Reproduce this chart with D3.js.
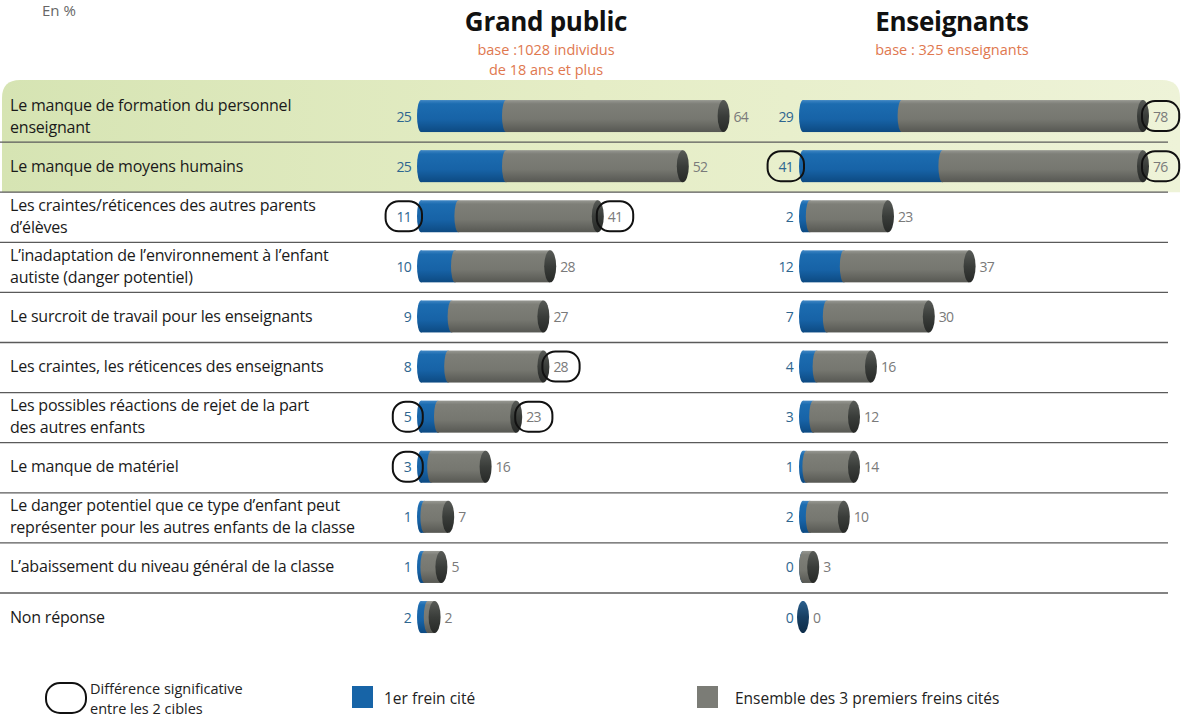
<!DOCTYPE html>
<html lang="fr">
<head>
<meta charset="utf-8">
<script src="https://cdn.jsdelivr.net/npm/d3@7"></script>
<style>
  body { margin: 0; background: #fff; }
  svg text { font-family: "Open Sans", "Noto Sans", sans-serif; }
</style>
</head>
<body>
<div id="chart"></div>
<script>
// data
const categories = [
    "Le manque de formation du personnel\nenseignant",
    "Le manque de moyens humains",
    "Les craintes/réticences des autres parents\nd’élèves",
    "L’inadaptation de l’environnement à l’enfant\nautiste (danger potentiel)",
    "Le surcroit de travail pour les enseignants",
    "Les craintes, les réticences des enseignants",
    "Les possibles réactions de rejet de la part\ndes autres enfants",
    "Le manque de matériel",
    "Le danger potentiel que ce type d’enfant peut\nreprésenter pour les autres enfants de la classe",
    "L’abaissement du niveau général de la classe",
    "Non réponse"
];

const gpFirst = [25, 25, 11, 10, 9, 8, 5, 3, 1, 1, 2];
const gpTotal = [64, 52, 41, 28, 27, 28, 23, 16, 7, 5, 2];
const ensFirst = [29, 41, 2, 12, 7, 4, 3, 1, 2, 0, 0];
const ensTotal = [78, 76, 23, 37, 30, 16, 12, 14, 10, 3, 0];

// significant difference between the 2 targets (circled values)
const gpSigFirst = [0, 0, 1, 0, 0, 0, 1, 1, 0, 0, 0];
const gpSigTotal = [0, 0, 1, 0, 0, 1, 1, 0, 0, 0, 0];
const ensSigFirst = [0, 1, 0, 0, 0, 0, 0, 0, 0, 0, 0];
const ensSigTotal = [1, 1, 0, 0, 0, 0, 0, 0, 0, 0, 0];

const panelTitles = ["Grand public", "Enseignants"];
const panelBases = [["base :1028 individus", "de 18 ans et plus"], ["base : 325 enseignants"]];
const legendLabels = [["Différence significative", "entre les 2 cibles"], ["1er frein cité"], ["Ensemble des 3 premiers freins cités"]];

// layout
const WIDTH = 1187, HEIGHT = 722;
const ROW_TOP = 92, ROW_STEP = 50.1;
const BAR_H = 32;
const PANEL_X0 = [421, 803];
const PANEL_CX = [546, 952];
const HIGHLIGHT_ROWS = 2;

const BLUE = "#1764a7", GREY = "#7b7c76";

const panels = [
    { title: panelTitles[0], base: panelBases[0], first: gpFirst, total: gpTotal, sigFirst: gpSigFirst, sigTotal: gpSigTotal, x0: PANEL_X0[0], cx: PANEL_CX[0] },
    { title: panelTitles[1], base: panelBases[1], first: ensFirst, total: ensTotal, sigFirst: ensSigFirst, sigTotal: ensSigTotal, x0: PANEL_X0[1], cx: PANEL_CX[1] }
];

const svg = d3.select("#chart")
    .append("svg")
    .attr("width", WIDTH)
    .attr("height", HEIGHT);

// gradients for the cylinders
const defs = svg.append("defs");
function vGrad(id, stops) {
    const g = defs.append("linearGradient").attr("id", id)
        .attr("x1", 0).attr("y1", 0).attr("x2", 0).attr("y2", 1);
    stops.forEach(([o, c]) => g.append("stop").attr("offset", o).attr("stop-color", c));
}
vGrad("gBlue", [[0, "#3f86c4"], [0.12, "#1c6cb0"], [0.6, "#1763a7"], [1, "#0d4a82"]]);
vGrad("gGrey", [[0, "#979892"], [0.12, "#7e7f78"], [0.6, "#767770"], [1, "#575853"]]);
vGrad("gCap", [[0, "#585b57"], [0.5, "#3a3d3a"], [1, "#272927"]]);
vGrad("gCapBlue", [[0, "#2b5f8c"], [0.5, "#173f63"], [1, "#0e2c48"]]);

const hg = defs.append("linearGradient").attr("id", "gHighlight")
    .attr("x1", 0).attr("y1", 0).attr("x2", 1).attr("y2", 0);
hg.append("stop").attr("offset", 0).attr("stop-color", "#d6e4b3");
hg.append("stop").attr("offset", 0.5).attr("stop-color", "#e5edc6");
hg.append("stop").attr("offset", 1).attr("stop-color", "#eef3d8");

// scales
const yScale = d3.scaleBand()
    .domain(categories)
    .range([ROW_TOP, ROW_TOP + ROW_STEP * categories.length]);

const xScale = d3.scaleLinear()
    .domain([0, 100])
    .range([0, 340])
    .clamp(true);

// green band behind the first rows
const hlTop = 80, hlBottom = yScale(categories[HIGHLIGHT_ROWS - 1]) + yScale.bandwidth();
const hlL = 2, hlR = 1180, r = 18;
svg.append("path")
    .attr("d", `M${hlL},${hlBottom} L${hlL},${hlTop + r} Q${hlL},${hlTop} ${hlL + r},${hlTop} L${hlR - r},${hlTop} Q${hlR},${hlTop} ${hlR},${hlTop + r} L${hlR},${hlBottom} Z`)
    .attr("fill", "url(#gHighlight)");

// "En %"
svg.append("text")
    .attr("x", 42).attr("y", 16)
    .attr("font-size", 15)
    .attr("fill", "#666")
    .text("En %");

// panel headers
panels.forEach(p => {
    svg.append("text")
        .attr("x", p.cx).attr("y", 31)
        .attr("text-anchor", "middle")
        .attr("font-size", 26)
        .attr("font-weight", 700)
        .attr("letter-spacing", -0.3)
        .attr("fill", "#111")
        .text(p.title);
    p.base.forEach((line, i) => {
        svg.append("text")
            .attr("x", p.cx).attr("y", 55 + i * 20)
            .attr("text-anchor", "middle")
            .attr("font-size", 14.5)
            .attr("fill", "#e0784f")
            .text(line);
    });
});

// separators between rows
svg.selectAll(".sep")
    .data(categories.slice(0, -1))
    .enter()
    .append("line")
    .attr("class", "sep")
    .attr("x1", 0).attr("x2", 1168)
    .attr("y1", d => yScale(d) + yScale.bandwidth())
    .attr("y2", d => yScale(d) + yScale.bandwidth())
    .attr("stroke", "#5a5a5a")
    .attr("stroke-width", 1.3);

// row labels
const labels = svg.selectAll(".row-label")
    .data(categories)
    .enter()
    .append("text")
    .attr("class", "row-label")
    .attr("font-size", 16)
    .attr("letter-spacing", -0.2)
    .attr("fill", "#1a1a1a");

labels.each(function(d) {
    const lines = d.split("\n");
    const cy = yScale(d) + yScale.bandwidth() / 2 - 1.5;
    d3.select(this).selectAll("tspan")
        .data(lines)
        .enter()
        .append("tspan")
        .attr("x", 10)
        .attr("y", (l, i) => cy + (i - (lines.length - 1) / 2) * 22)
        .attr("dominant-baseline", "central")
        .text(l => l);
});

// circle around a value
function circleAround(node, cy) {
    const bb = node.getBBox();
    svg.append("rect")
        .attr("x", bb.x - 11)
        .attr("y", cy - 15)
        .attr("width", bb.width + 22)
        .attr("height", 30)
        .attr("rx", 13)
        .attr("fill", "none")
        .attr("stroke", "#111")
        .attr("stroke-width", 2);
}

// cylinders
panels.forEach(p => {
    const g = svg.append("g");
    categories.forEach((cat, i) => {
        const first = p.first[i], total = p.total[i];
        const cy = yScale(cat) + yScale.bandwidth() / 2 - 1;
        const xb = p.x0 + xScale(first);
        const xe = p.x0 + xScale(first + total);
        const top = cy - BAR_H / 2;

        g.append("ellipse")
            .attr("cx", p.x0).attr("cy", cy)
            .attr("rx", 4).attr("ry", BAR_H / 2)
            .attr("fill", "url(#gBlue)");
        g.append("rect")
            .attr("x", p.x0).attr("y", top)
            .attr("width", xb - p.x0).attr("height", BAR_H)
            .attr("fill", "url(#gBlue)");
        g.append("ellipse")
            .attr("cx", xb).attr("cy", cy)
            .attr("rx", 4).attr("ry", BAR_H / 2)
            .attr("fill", total > 0 ? "url(#gGrey)" : "url(#gBlue)");
        g.append("rect")
            .attr("x", xb).attr("y", top)
            .attr("width", xe - xb).attr("height", BAR_H)
            .attr("fill", "url(#gGrey)");
        g.append("ellipse")
            .attr("cx", xe).attr("cy", cy)
            .attr("rx", 6).attr("ry", BAR_H / 2)
            .attr("fill", total > 0 ? "url(#gCap)" : "url(#gCapBlue)");

        const tFirst = g.append("text")
            .attr("x", p.x0 - 10).attr("y", cy)
            .attr("text-anchor", "end")
            .attr("dominant-baseline", "central")
            .attr("font-size", 14)
            .attr("letter-spacing", -0.8)
            .attr("fill", "#2e6690")
            .text(first);
        const tTotal = g.append("text")
            .attr("x", xe + 10).attr("y", cy)
            .attr("dominant-baseline", "central")
            .attr("font-size", 14)
            .attr("letter-spacing", -0.8)
            .attr("fill", "#7a7a7a")
            .text(total);

        if (p.sigFirst[i]) circleAround(tFirst.node(), cy);
        if (p.sigTotal[i]) circleAround(tTotal.node(), cy);
    });
});

// legend
const legY = 698;
svg.append("rect")
    .attr("x", 46).attr("y", legY - 15)
    .attr("width", 40).attr("height", 30)
    .attr("rx", 14)
    .attr("fill", "none")
    .attr("stroke", "#111")
    .attr("stroke-width", 2);
legendLabels[0].forEach((l, i) => {
    svg.append("text")
        .attr("x", 90).attr("y", legY - 10 + i * 20)
        .attr("dominant-baseline", "central")
        .attr("font-size", 14.5)
        .attr("fill", "#222")
        .text(l);
});

svg.append("rect")
    .attr("x", 352).attr("y", legY - 12)
    .attr("width", 21).attr("height", 22)
    .attr("fill", BLUE);
svg.append("text")
    .attr("x", 384).attr("y", legY)
    .attr("dominant-baseline", "central")
    .attr("font-size", 15.5)
    .attr("fill", "#222")
    .text(legendLabels[1][0]);

svg.append("rect")
    .attr("x", 697).attr("y", legY - 12)
    .attr("width", 21).attr("height", 22)
    .attr("fill", GREY);
svg.append("text")
    .attr("x", 735).attr("y", legY)
    .attr("dominant-baseline", "central")
    .attr("font-size", 15.5)
    .attr("fill", "#222")
    .text(legendLabels[2][0]);
</script>
</body>
</html>
